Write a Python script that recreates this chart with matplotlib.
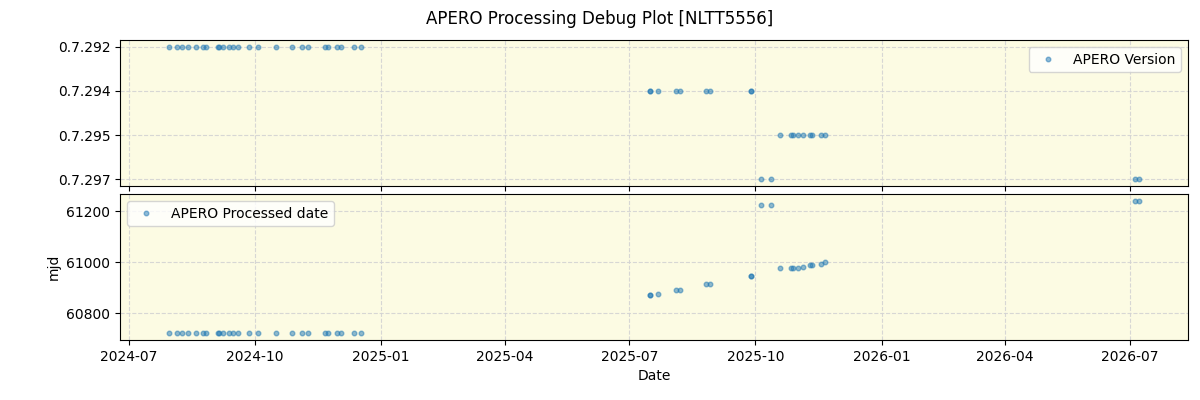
import matplotlib
matplotlib.use('Agg')
import matplotlib.pyplot as plt
import pandas as pd

# ── Data ────────────────────────────────────────────
# observation dates (read off the x axis)
obs_dates = [
    "2024-07-30", "2024-08-05", "2024-08-09", "2024-08-13", "2024-08-19",
    "2024-08-24", "2024-08-26", "2024-09-04", "2024-09-05", "2024-09-08",
    "2024-09-12", "2024-09-15", "2024-09-19", "2024-09-27", "2024-10-03",
    "2024-10-16", "2024-10-28", "2024-11-04", "2024-11-09", "2024-11-21",
    "2024-11-23", "2024-11-30", "2024-12-03", "2024-12-12", "2024-12-17",
    "2025-07-16", "2025-07-16", "2025-07-22", "2025-08-04", "2025-08-07",
    "2025-08-26", "2025-08-29", "2025-09-28", "2025-09-28",
    "2025-10-05", "2025-10-12",
    "2025-10-19", "2025-10-27", "2025-10-28", "2025-11-01", "2025-11-05",
    "2025-11-10", "2025-11-11", "2025-11-18", "2025-11-21",
    "2026-07-05", "2026-07-08",
]

apero_version = (
    ["0.7.292"] * 25
    + ["0.7.294"] * 9
    + ["0.7.297"] * 2
    + ["0.7.295"] * 9
    + ["0.7.297"] * 2
)

processed_mjd = (
    [60722] * 25
    + [60871, 60871, 60877, 60893, 60893, 60916, 60916, 60948, 60948]
    + [61226, 61226]
    + [60979, 60979, 60979, 60979, 60983, 60988, 60988, 60995, 61000]
    + [61242, 61242]
)

version_labels = ["0.7.292", "0.7.294", "0.7.295", "0.7.297"]

dates = pd.to_datetime(obs_dates)
version_idx = [version_labels.index(v) for v in apero_version]

# ── Plot ────────────────────────────────────────────
fig, (ax1, ax2) = plt.subplots(2, 1, figsize=(12, 4), dpi=100, sharex=True)
fig.subplots_adjust(left=0.1, right=0.99, top=0.9, bottom=0.15, hspace=0.055)
fig.suptitle("APERO Processing Debug Plot [NLTT5556]", fontsize=12, y=0.975)

bg = "#fcfbe3"

ax1.plot(dates, version_idx, "o", ms=3.3, alpha=0.5, color="C0", label="APERO Version")
ax1.set_yticks(range(len(version_labels)), version_labels)
ax1.invert_yaxis()
ax1.legend(loc="upper right")

ax2.plot(dates, processed_mjd, "o", ms=3.3, alpha=0.5, color="C0", label="APERO Processed date")
ax2.set_ylabel("mjd")
ax2.set_xlabel("Date")
ax2.legend(loc="upper left")

for ax in (ax1, ax2):
    ax.set_facecolor(bg)
    ax.grid(True, linestyle="--", color="lightgray", alpha=0.9)

plt.savefig("out.png", dpi=100)
